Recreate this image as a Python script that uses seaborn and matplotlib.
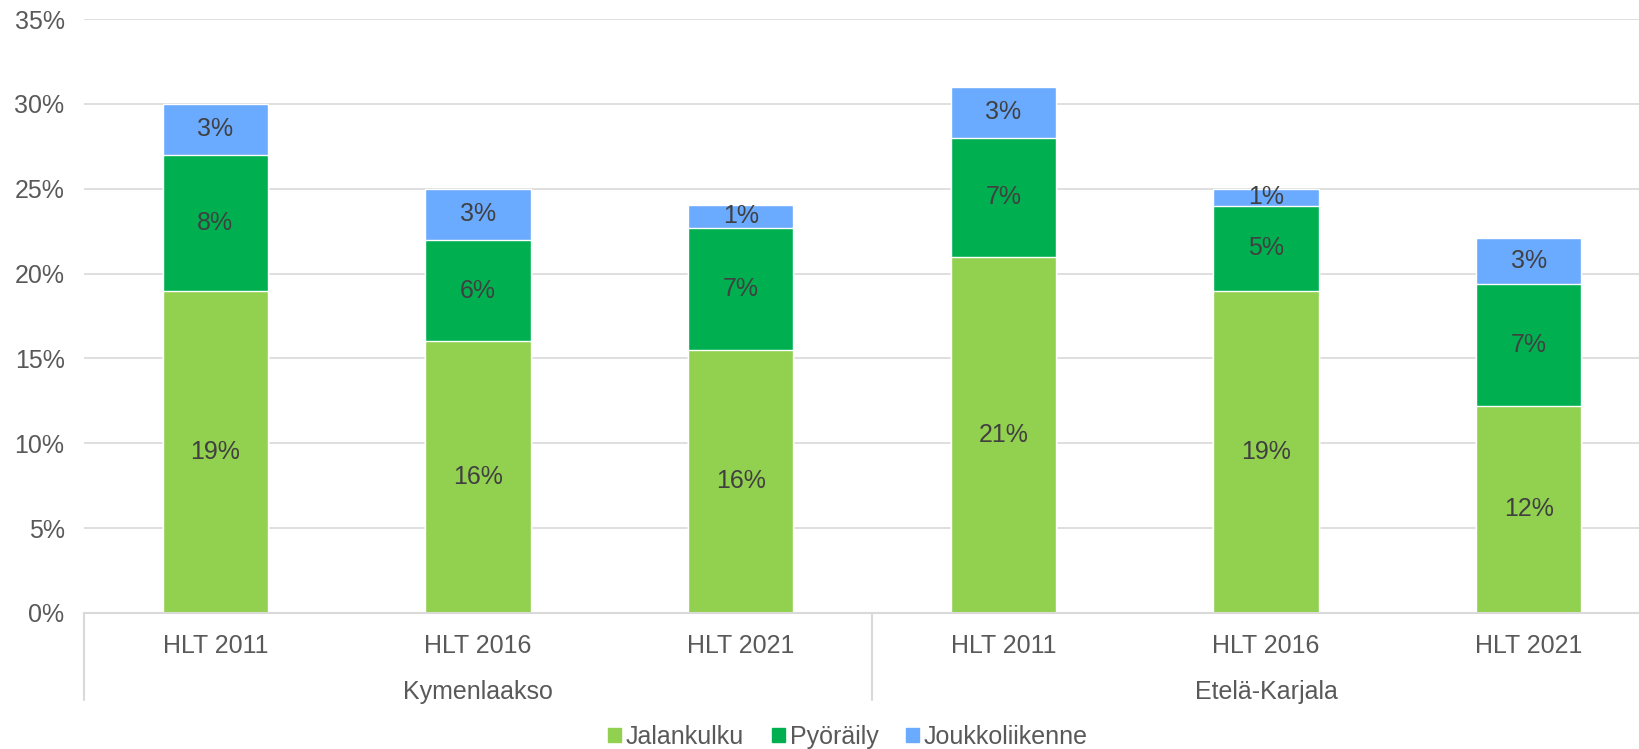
import matplotlib
matplotlib.use("Agg")
import matplotlib.pyplot as plt
import matplotlib.patches as mpatches
import numpy as np
import pandas as pd
import seaborn as sns

# values (percent)
regions = ["Kymenlaakso", "Kymenlaakso", "Kymenlaakso",
           "Etelä-Karjala", "Etelä-Karjala", "Etelä-Karjala"]
surveys = ["HLT 2011", "HLT 2016", "HLT 2021", "HLT 2011", "HLT 2016", "HLT 2021"]
walk = [19, 16, 15.5, 21, 19, 12.2]
bike = [8, 6, 7.2, 7, 5, 7.2]
transit = [3, 3, 1.35, 3, 1, 2.7]

series_names = ["Jalankulku", "Pyöräily", "Joukkoliikenne"]
colors = ["#92D050", "#00B050", "#6AAAFF"]

sns.set_theme(style="white")
plt.rcParams["font.family"] = ["Liberation Sans", "DejaVu Sans"]

text_col = "#595959"
label_col = "#404040"
grid_col = "#D9D9D9"
fs = 18

df = pd.DataFrame({"region": regions, "survey": surveys,
                   "walk": walk, "bike": bike, "transit": transit})
df["key"] = df["region"] + " " + df["survey"]
df["cum1"] = df["walk"]
df["cum2"] = df["walk"] + df["bike"]
df["cum3"] = df["cum2"] + df["transit"]
order = list(df["key"])

fig = plt.figure(figsize=(16.39, 7.49), dpi=100)
ax = fig.add_axes([84 / 1639, (749 - 613) / 749, 1576 / 1639, 594 / 749])

# stacked bars drawn as overlapping cumulative bars, tallest first
for col, c in zip(["cum3", "cum2", "cum1"], colors[::-1]):
    sns.barplot(data=df, x="key", y=col, order=order, color=c, width=0.4,
                saturation=1, errorbar=None, ax=ax, zorder=3)

# segment labels at the middle of each segment
for i, row in df.iterrows():
    bottoms = [0, row["cum1"], row["cum2"]]
    for b, v in zip(bottoms, [row["walk"], row["bike"], row["transit"]]):
        ax.text(i, b + v / 2, f"{round(v)}%", ha="center", va="center",
                fontsize=fs, color=label_col, zorder=4)

ax.set_xlim(-0.5, 5.5)
ax.set_ylim(0, 35)
ax.set_yticks(np.arange(0, 36, 5))
ax.set_yticklabels([f"{t}%" for t in range(0, 36, 5)])
ax.set_xticks(range(len(order)))
ax.set_xticklabels(surveys)
ax.set_xlabel("")
ax.set_ylabel("")
ax.tick_params(axis="y", length=0, pad=14, labelsize=fs, labelcolor=text_col)
ax.tick_params(axis="x", length=0, pad=15, labelsize=fs, labelcolor=text_col)

ax.yaxis.grid(True, color=grid_col, lw=1.2, zorder=0)
ax.set_axisbelow(True)
for s in ["top", "right", "left"]:
    ax.spines[s].set_visible(False)
ax.spines["bottom"].set_color(grid_col)
ax.spines["bottom"].set_linewidth(1.5)
ax.spines["bottom"].set_zorder(5)

# group separators and group labels below the axis
tr = ax.get_xaxis_transform()
for xs in [-0.5, 2.5, 5.5]:
    ax.plot([xs, xs], [0, -87 / 594], transform=tr, color=grid_col,
            lw=1.5, clip_on=False)
for xc, name in [(1, "Kymenlaakso"), (4, "Etelä-Karjala")]:
    ax.text(xc, -79 / 594, name, transform=tr, ha="center", va="center",
            fontsize=fs, color=text_col)

handles = [mpatches.Patch(color=c, label=n) for c, n in zip(colors, series_names)]
fig.legend(handles=handles, loc="center", bbox_to_anchor=(848 / 1639, 12 / 749),
           ncol=3, frameon=False, fontsize=fs, handlelength=0.52,
           handleheight=0.52, handletextpad=0.2, columnspacing=1.1,
           labelcolor=text_col)

fig.savefig("out.png", dpi=100)
